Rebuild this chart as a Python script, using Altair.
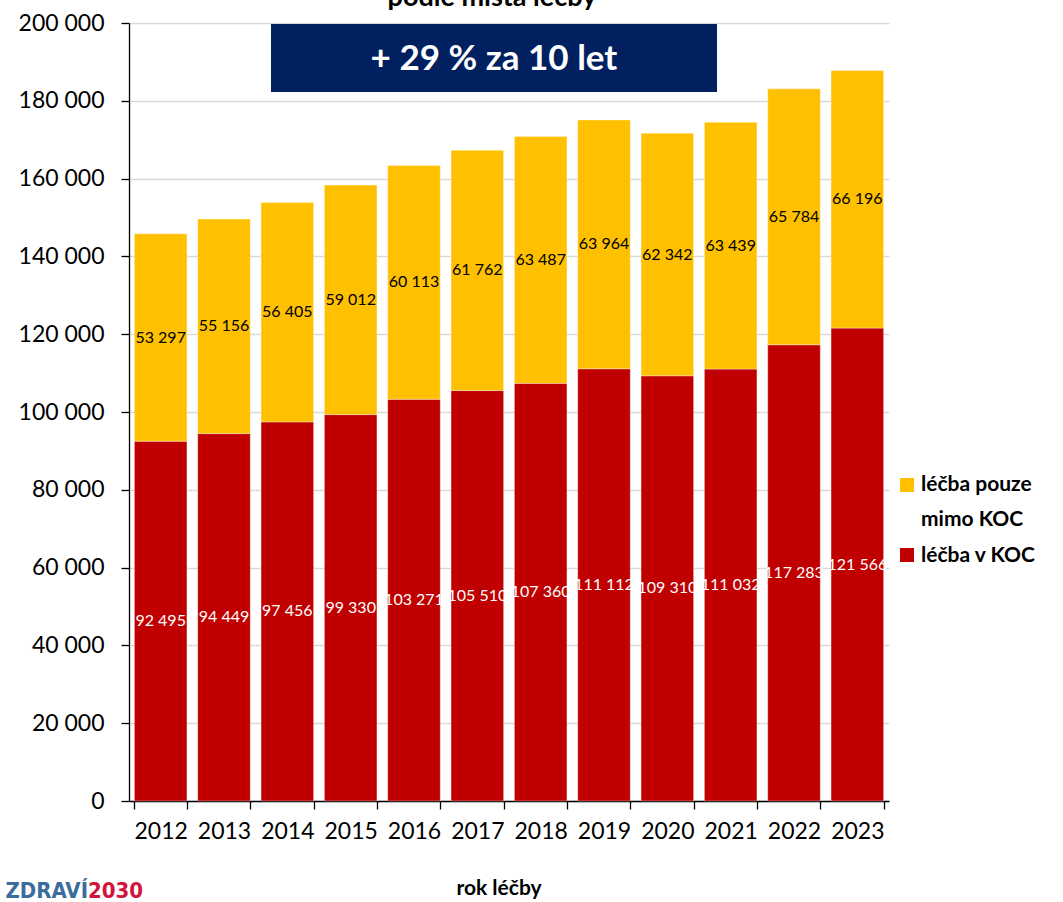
import altair as alt
import pandas as pd

years = ["2012", "2013", "2014", "2015", "2016", "2017", "2018", "2019", "2020", "2021", "2022", "2023"]
v_koc = [92495, 94449, 97456, 99330, 103271, 105510, 107360, 111112, 109310, 111032, 117283, 121566]
mimo_koc = [53297, 55156, 56405, 59012, 60113, 61762, 63487, 63964, 62342, 63439, 65784, 66196]
series_names = ["léčba v KOC", "léčba pouze mimo KOC"]
series_colors = ["#C00000", "#FFC000"]
label_colors = ["#FFFFFF", "#000000"]
y_ticks = [0, 20000, 40000, 60000, 80000, 100000, 120000, 140000, 160000, 180000, 200000]

rows = []
for i, y in enumerate(years):
    rows.append({"year": y, "series": series_names[0], "value": v_koc[i], "ord": 0})
    rows.append({"year": y, "series": series_names[1], "value": mimo_koc[i], "ord": 1})
df = pd.DataFrame(rows)
df["label"] = df["value"].map(lambda v: f"{v:,}".replace(",", " "))

FONT = "Lato"
W, H = 760, 778

base = alt.Chart(df)
yscale = alt.Scale(domain=[0, 200000], nice=False)
xscale = alt.Scale(paddingInner=0.17, paddingOuter=0.085)
xaxis = alt.Axis(labelAngle=0, labelFontSize=23, labelFont=FONT, labelColor="#000000",
                 labelPadding=11, domain=True, domainColor="#000000", domainWidth=1.3,
                 tickColor="#000000", tickSize=8, tickWidth=1.3, tickBand="extent", grid=False,
                 gridColor="transparent", gridWidth=0, gridOpacity=0)
yaxis = alt.Axis(values=y_ticks, labelExpr="replace(format(datum.value, ','), ',', ' ')",
                 labelFontSize=23, labelFont=FONT, labelColor="#000000", labelPadding=17,
                 domain=True, domainColor="#000000", domainWidth=1.3, tickColor="#000000", tickSize=8,
                 tickWidth=1.3, grid=True, gridColor="#D9D9D9", gridWidth=1.5)

bars = base.mark_bar(stroke="#FFFFFF", strokeOpacity=0.35, strokeWidth=1).encode(
    x=alt.X("year:O", title=None, sort=years, scale=xscale, axis=xaxis),
    y=alt.Y("value:Q", stack="zero", title=None, scale=yscale, axis=yaxis),
    color=alt.Color("series:N", scale=alt.Scale(domain=series_names, range=series_colors), legend=None),
    order=alt.Order("ord:Q", sort="ascending"),
)

labels = base.transform_stack(
    stack="value", groupby=["year"], as_=["v0", "v1"], sort=[alt.SortField("ord", order="ascending")]
).transform_calculate(mid="(datum.v0 + datum.v1) / 2").mark_text(
    font=FONT, fontSize=16, baseline="middle", align="center"
).encode(
    x=alt.X("year:O", title=None, sort=years, scale=xscale, axis=xaxis),
    y=alt.Y("mid:Q", title=None, scale=yscale, axis=yaxis),
    text="label:N",
    color=alt.Color("series:N", scale=alt.Scale(domain=series_names, range=label_colors), legend=None),
)

one = pd.DataFrame({"k": [0]})

def txt(t, x, y, size, color="#000000", weight="bold", align="center", baseline="middle", font=FONT):
    return alt.Chart(one).mark_text(
        text=t, font=font, fontSize=size, fontWeight=weight, color=color, align=align, baseline=baseline
    ).encode(x=alt.value(x), y=alt.value(y))

# Banner box
box = alt.Chart(one).mark_rect(color="#002060").encode(
    x=alt.value(142), x2=alt.value(588), y=alt.value(1), y2=alt.value(69)
)
box_text = txt("+ 29 % za 10 let", 365, 36, 35, color="#FFFFFF")

# Clipped title at top
title_text = txt("podle místa léčby", 363, -17, 27, baseline="alphabetic")

# Axis title
xtitle = txt("rok léčby", 370, 866, 21)

# Legend (manual)
def sq(color, y):
    return alt.Chart(one).mark_square(size=196, opacity=1, color=color).encode(
        x=alt.value(778), y=alt.value(y))

leg = [
    sq(series_colors[1], 462),
    sq(series_colors[0], 532),
    txt("léčba pouze", 792, 462, 21, align="left"),
    txt("mimo KOC", 792, 497, 21, align="left"),
    txt("léčba v KOC", 792, 533, 21, align="left"),
]

# Logo
LOGO_FONT = "DejaVu Sans Condensed"
logo1 = txt("ZDRAVÍ", -41, 875, 22, color="#3B6C9C", align="right", baseline="alphabetic", font=LOGO_FONT)
logo2 = txt("2030", -41, 875, 22, color="#D2143A", align="left", baseline="alphabetic", font=LOGO_FONT)

chart = alt.layer(
    bars, labels, box, box_text, title_text, xtitle, *leg, logo1, logo2
).resolve_scale(color="independent").properties(
    width=W, height=H,
    view=alt.ViewBackground(stroke="transparent", strokeWidth=0),
    autosize=alt.AutoSizeParams(type="none"),
    padding={"left": 129, "top": 23, "right": 174, "bottom": 101},
).configure_view(stroke="transparent", strokeWidth=0).configure_axisX(grid=False).configure(
    background="#FFFFFF", style={"cell": {"stroke": "transparent", "strokeWidth": 0}})

chart.save("out.html", embed_options={"renderer": "svg", "actions": False})
